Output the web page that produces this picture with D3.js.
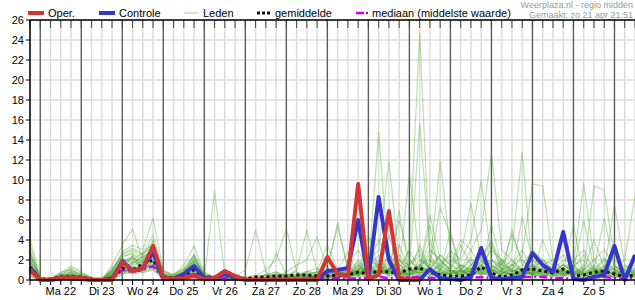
<!DOCTYPE html>
<html>
<head>
<meta charset="utf-8">
<script src="https://cdn.jsdelivr.net/npm/d3@7"></script>
<style>
  html, body { margin: 0; padding: 0; background: #fff; }
  svg { display: block; font-family: "Liberation Sans", Arial, sans-serif; }
</style>
</head>
<body>
<div id="chart"></div>
<script>
// 6-uurlijkse neerslag (mm), eerste punt zo 21 apr 18:00 UTC
const start = Date.UTC(2024, 3, 21, 18);
const stapUren = 6;

const dagLabels = ["Ma 22", "Di 23", "Wo 24", "Do 25", "Vr 26", "Za 27", "Zo 28",
  "Ma 29", "Di 30", "Wo 1", "Do 2", "Vr 3", "Za 4", "Zo 5"];
const yTicks = [0, 2, 4, 6, 8, 10, 12, 14, 16, 18, 20, 22, 24, 26];

const oper = [1.0, 0, 0, 0.2, 0.3, 0.2, 0, 0, 0, 1.8,
  0.9, 1.2, 3.4, 0.2, 0.1, 0.2, 0.4, 0.1, 0.2, 0.9,
  0.4, 0, 0, 0, 0, 0, 0, 0, 0, 2.3,
  0.6, 0.4, 9.6, 0.1, 0.5, 6.9, 0.2, 0.1, 0];

const controle = [1.2, 0, 0, 0.2, 0.2, 0.1, 0, 0, 0.1, 1.9,
  0.9, 1.2, 2.8, 0.1, 0.1, 0.6, 1.4, 0.2, 0.2, 0.6,
  0.3, 0, 0, 0, 0, 0, 0, 0, 0.1, 0.9,
  1.0, 1.2, 6.0, 0.1, 8.3, 2.0, 0, 0, 0, 1.1,
  0.2, 0.1, 0, 0.3, 3.2, 0.2, 0.1, 0.2, 0.3, 2.7,
  1.5, 0.8, 4.8, 0.1, 0, 0.3, 0.5, 3.4, 0, 2.5];

const gemiddelde = [1.3, 0.1, 0.1, 0.3, 0.4, 0.3, 0.1, 0, 0.2, 1.2,
  1.0, 1.6, 2.0, 0.3, 0.2, 0.5, 1.0, 0.3, 0.3, 0.6,
  0.3, 0.1, 0.3, 0.3, 0.4, 0.4, 0.5, 0.5, 0.4, 0.4,
  0.5, 0.5, 0.8, 0.6, 0.9, 0.8, 0.7, 1.1, 1.2, 0.8,
  0.5, 0.4, 0.4, 0.5, 1.3, 0.7, 0.3, 0.5, 1.0, 1.1,
  0.9, 0.7, 1.1, 0.4, 0.5, 0.8, 0.9, 0.6, 0.3, 0.5];

const mediaan = [1.1, 0, 0, 0.1, 0.2, 0.1, 0, 0, 0.1, 1.0,
  0.8, 1.0, 1.4, 0.1, 0.1, 0.3, 0.6, 0.1, 0, 0.2,
  0.1, 0, 0, 0, 0.1, 0.1, 0.1, 0.1, 0.1, 0.1,
  0.2, 0.1, 0.2, 0.2, 0.3, 0.2, 0.2, 0.3, 0.3, 0.2,
  0.2, 0.1, 0.2, 0.2, 0.3, 0.2, 0.1, 0.2, 0.3, 0.3,
  0.3, 0.2, 0.2, 0.1, 0.2, 0.3, 0.3, 0.2, 0.1, 0.2];

const leden = [
  [1.5, 0, 0, 0.3, 0.5, 0.2, 0, 0, 0.3, 1.2, 1.0, 1.5, 2.5, 0.3, 0.1, 0.4, 1.0, 0.2, 0, 0.2,
   0.1, 0, 0, 0.3, 0.5, 0.2, 0, 0.4, 0.3, 0.5, 1.0, 0.5, 1.2, 0.8, 2.0, 1.0, 0.5, 3.0, 24.7, 2.0,
   0.5, 0.3, 1.0, 2.0, 0.8, 0.3, 0.5, 1.5, 1.0, 0.6, 0.3, 0.8, 1.2, 0.4, 0.2, 0.5, 1.0, 0.6, 0.3, 0.2],
  [2.0, 0.1, 0, 0.5, 0.3, 0.1, 0, 0, 0.5, 1.8, 1.2, 2.0, 3.5, 0.5, 0.2, 0.8, 1.5, 0.3, 0.1, 0.5,
   0.2, 0, 0.1, 0.5, 0.8, 0.3, 0.2, 0.6, 0.8, 1.0, 0.5, 0.3, 2.0, 1.0, 14.8, 1.5, 0.5, 0.8, 1.0, 2.5,
   1.0, 0.5, 0.3, 0.8, 1.5, 2.0, 1.0, 0.5, 0.3, 1.2, 2.0, 1.5, 0.5, 0.3, 0.8, 1.2, 0.6, 0.3, 0.5, 1.0],
  [1.0, 0, 0, 0.2, 0.8, 0.4, 0.1, 0, 0.2, 0.8, 2.5, 1.0, 1.8, 0.2, 0, 0.5, 2.0, 0.5, 0, 0,
   0, 0, 0.2, 0.1, 0.3, 0.5, 0.8, 0.2, 0.5, 0.3, 0.8, 1.5, 0.5, 2.0, 3.0, 11.9, 2.0, 1.0, 15.6, 3.0,
   2.0, 1.0, 0.5, 1.5, 3.0, 1.0, 0.5, 0.3, 0.8, 2.0, 1.0, 0.5, 0.3, 1.5, 2.0, 0.8, 0.4, 0.2, 0.6, 0.3],
  [3.0, 0.2, 0.1, 0.8, 1.0, 0.5, 0, 0, 1.0, 2.5, 3.0, 2.5, 4.0, 0.8, 0.5, 1.2, 2.5, 0.4, 0.2, 0.8,
   0.3, 0.1, 0, 0, 0.2, 0.4, 0.3, 0.8, 1.2, 0.4, 0.3, 0.6, 1.5, 0.8, 1.0, 2.5, 1.0, 10.7, 2.0, 1.5,
   11.9, 3.0, 1.0, 0.5, 2.0, 1.5, 0.8, 1.0, 0.5, 0.3, 0.8, 1.0, 2.0, 1.5, 0.5, 0.3, 0.2, 0.8, 1.5, 0.5],
  [0.8, 0, 0, 0.1, 0.2, 0.1, 0, 0, 0, 0.6, 0.8, 1.2, 1.5, 0.1, 0, 0.2, 0.6, 0.1, 0, 0,
   0, 0, 0, 0.2, 0.1, 0, 0, 0.1, 0.2, 0.3, 0.5, 0.2, 0.8, 0.3, 0.6, 1.0, 2.0, 1.5, 3.0, 1.0,
   2.5, 1.5, 4.0, 3.0, 5.0, 12.7, 3.0, 2.0, 1.0, 0.5, 0.3, 1.0, 0.8, 2.0, 3.0, 1.0, 0.5, 0.3, 0.2, 0.8],
  [1.2, 0, 0.1, 0.4, 0.6, 0.3, 0.2, 0.1, 0.8, 1.5, 1.5, 1.8, 2.2, 0.6, 0.3, 0.5, 1.2, 0.3, 0.1, 0.3,
   0.5, 0.2, 0.1, 0, 0.1, 0.3, 0.5, 0.3, 0.1, 0.2, 0.4, 1.0, 0.5, 1.5, 0.8, 2.0, 1.2, 0.5, 1.5, 2.0,
   1.0, 3.0, 2.0, 4.0, 10.0, 2.0, 1.5, 3.0, 12.8, 1.0, 0.5, 0.8, 1.5, 0.8, 0.4, 0.6, 1.0, 0.5, 0.3, 0.2],
  [0.5, 0, 0, 0, 0.1, 0, 0, 0, 0.2, 0.9, 1.8, 1.4, 2.8, 0.3, 0.1, 0.3, 0.8, 0.2, 0, 0.1,
   0, 0, 0, 0, 0, 0.2, 0.4, 0.6, 0.2, 0, 0.2, 0.3, 0.6, 1.2, 2.5, 0.8, 3.5, 1.0, 0.8, 0.5,
   1.5, 2.5, 1.0, 0.5, 1.5, 3.0, 2.0, 1.0, 2.5, 9.6, 9.4, 2.0, 1.0, 0.5, 1.0, 2.0, 3.0, 1.5, 0.5, 1.0],
  [2.5, 0.3, 0.2, 0.6, 0.4, 0.2, 0, 0, 0.6, 2.0, 2.2, 1.0, 1.5, 0.4, 0.2, 0.6, 1.8, 0.6, 0.3, 0.6,
   0.2, 0, 0.1, 0.1, 0.2, 0.1, 0.2, 0.3, 0.5, 0.8, 1.2, 0.5, 0.8, 0.4, 1.0, 0.6, 0.5, 2.0, 1.0, 3.0,
   2.0, 1.0, 0.8, 1.2, 0.6, 0.8, 2.0, 1.5, 3.0, 1.0, 2.0, 1.0, 0.5, 1.5, 9.7, 2.0, 0.8, 0.5, 1.2, 2.0],
  [1.8, 0.1, 0, 0.2, 0.3, 0.4, 0.1, 0.1, 0.4, 1.2, 1.0, 0.8, 1.2, 0.3, 0.4, 0.8, 1.5, 0.5, 0.2, 0.1,
   0.1, 0.1, 0.3, 0.2, 0.4, 0.6, 0.2, 0.1, 0.3, 0.6, 0.8, 0.4, 1.0, 0.6, 1.5, 1.0, 0.8, 0.4, 2.0, 1.2,
   0.5, 0.8, 1.5, 1.0, 2.5, 1.0, 0.6, 1.2, 0.8, 1.5, 1.0, 0.6, 1.2, 2.0, 1.0, 9.4, 9.0, 2.0, 1.0, 0.5],
  [0.6, 0, 0, 0.1, 0.3, 0.2, 0, 0, 0.1, 0.7, 1.3, 0.9, 2.0, 0.2, 0.1, 0.4, 1.0, 0.2, 8.9, 0.5,
   0.1, 0, 0, 0, 0.1, 0.2, 0.1, 0.3, 0.1, 0.2, 0.3, 0.8, 0.4, 1.0, 0.6, 1.2, 0.4, 0.8, 0.5, 0.3,
   0.8, 0.5, 0.3, 0.6, 1.0, 1.5, 0.8, 0.5, 1.0, 0.6, 0.4, 0.8, 1.5, 1.0, 0.5, 0.8, 1.2, 1.0, 2.0, 8.5],
  [4.1, 0.2, 0, 0.3, 0.6, 0.3, 0.1, 0, 1.5, 3.5, 5.1, 2.0, 3.0, 0.5, 0.2, 0.3, 1.0, 0.1, 0, 0.2,
   0.3, 1.0, 5.0, 0.8, 0.2, 0.1, 0.3, 0.5, 0.8, 0.3, 0.6, 0.2, 1.5, 0.5, 1.0, 0.8, 2.5, 1.2, 0.6, 1.5,
   7.2, 4.5, 1.0, 0.8, 1.5, 0.6, 1.0, 2.0, 0.8, 0.5, 1.2, 0.8, 0.4, 0.6, 1.5, 1.0, 0.5, 0.8, 0.4, 0.3],
  [2.2, 0.1, 0, 0.4, 0.9, 0.6, 0.2, 0.1, 0.9, 2.8, 3.5, 3.0, 6.2, 1.0, 0.4, 0.9, 2.2, 0.6, 0.2, 0.4,
   0.2, 0.1, 0.4, 1.0, 2.0, 5.2, 0.8, 0.4, 0.3, 0.5, 1.0, 0.5, 0.8, 2.5, 1.0, 1.5, 0.8, 0.6, 3.5, 1.0,
   0.6, 1.2, 2.5, 7.7, 2.0, 1.0, 0.8, 0.6, 6.3, 2.0, 1.5, 0.8, 0.5, 1.0, 0.7, 0.5, 0.8, 1.5, 0.6, 0.4],
  [1.4, 0, 0, 0.2, 0.2, 0.1, 0, 0, 0.5, 1.6, 1.1, 1.6, 2.6, 0.4, 0.3, 0.7, 1.4, 0.3, 0.1, 0,
   0, 0.2, 0.1, 0.3, 0.6, 0.4, 1.0, 5.0, 0.8, 1.5, 5.3, 1.2, 0.6, 1.5, 4.0, 2.0, 1.0, 1.5, 2.5, 1.0,
   0.8, 0.5, 1.5, 1.0, 0.6, 2.0, 1.2, 0.8, 1.5, 3.0, 2.0, 1.0, 0.8, 0.5, 0.3, 0.6, 1.0, 7.5, 1.5, 0.6],
  [0.9, 0, 0.1, 0.5, 1.2, 0.7, 0.3, 0.2, 0.4, 1.0, 0.7, 1.3, 1.9, 0.2, 0.1, 0.6, 2.6, 0.8, 0.3, 0.5,
   0.4, 0.3, 0.2, 0.6, 0.3, 0.8, 1.5, 2.0, 4.3, 1.0, 0.8, 1.5, 3.0, 1.2, 0.8, 4.5, 1.0, 0.5, 0.8, 2.0,
   1.5, 0.8, 1.0, 2.2, 1.0, 0.5, 1.0, 1.5, 2.0, 1.0, 0.8, 1.5, 2.5, 1.2, 0.8, 0.4, 1.5, 1.0, 0.6, 1.2],
  [1.6, 0.1, 0, 0.1, 0.4, 0.5, 0.1, 0, 0.3, 1.1, 0.9, 1.1, 1.6, 0.2, 0.1, 0.3, 0.9, 0.4, 0.1, 0.2,
   0.1, 0, 0, 0.1, 2.7, 0.5, 0.2, 0.4, 0.2, 0.8, 5.8, 1.0, 0.5, 0.8, 1.5, 0.6, 1.2, 3.0, 1.0, 0.5,
   1.0, 2.0, 1.5, 0.8, 3.0, 1.5, 0.8, 0.5, 1.0, 1.5, 0.6, 0.4, 0.8, 1.2, 2.5, 1.0, 0.6, 0.4, 0.8, 0.5],
  [2.8, 0.2, 0.1, 0.6, 0.8, 0.3, 0, 0, 1.2, 2.2, 2.8, 2.2, 3.2, 0.7, 0.5, 1.5, 3.4, 0.7, 0.2, 0.6,
   0.3, 0.1, 0.2, 0.1, 0.5, 0.3, 0.6, 0.2, 0.4, 0.6, 0.4, 0.8, 1.8, 0.5, 1.2, 0.8, 0.5, 1.0, 1.5, 0.8,
   0.5, 1.0, 3.5, 1.5, 0.8, 1.2, 2.0, 0.8, 0.5, 1.0, 1.5, 2.0, 1.0, 0.6, 0.5, 1.5, 0.8, 0.6, 1.0, 1.8],
  [0.7, 0, 0, 0.3, 0.5, 0.2, 0.1, 0.3, 0.6, 1.4, 1.6, 2.4, 3.8, 0.3, 0.2, 0.4, 0.7, 0.2, 0, 0.1,
   0, 0, 0, 0.2, 0.4, 0.2, 0.1, 0.3, 0.6, 0.4, 0.6, 0.3, 0.8, 1.2, 0.5, 2.5, 1.5, 0.8, 1.2, 0.6,
   1.8, 1.0, 0.6, 1.5, 2.2, 4.0, 1.5, 1.0, 0.6, 0.8, 1.2, 0.6, 0.4, 0.8, 1.2, 0.8, 2.0, 1.0, 0.5, 0.4],
  [1.1, 0, 0, 0, 0.1, 0.1, 0, 0, 0.1, 0.5, 1.4, 0.7, 1.0, 0.1, 0, 0.2, 0.5, 0.1, 0, 0,
   0, 0, 0.1, 0, 0, 0.1, 0, 0.1, 0.1, 0.2, 0.3, 0.1, 0.5, 0.3, 0.8, 0.5, 0.3, 0.5, 0.8, 0.6,
   0.4, 0.6, 0.8, 0.5, 1.0, 0.8, 0.5, 0.6, 0.4, 0.8, 0.5, 0.4, 0.6, 0.8, 0.5, 0.3, 0.6, 0.4, 0.5, 0.6],
  [2.4, 0.1, 0.1, 0.7, 1.4, 0.8, 0.2, 0.1, 0.7, 1.9, 2.0, 2.7, 4.5, 0.9, 0.6, 1.0, 1.8, 0.3, 0.1, 0.3,
   0.6, 0.2, 0.3, 0.5, 0.8, 0.4, 0.5, 0.9, 0.6, 1.2, 0.8, 0.6, 1.0, 2.0, 1.5, 0.8, 2.0, 1.0, 0.6, 1.2,
   2.5, 1.5, 0.8, 0.6, 1.0, 5.5, 1.5, 0.8, 1.2, 0.6, 0.8, 1.2, 0.6, 1.0, 6.0, 1.2, 0.8, 2.5, 1.0, 0.8],
  [0.4, 0, 0, 0.2, 0.3, 0.2, 0.1, 0, 0.3, 0.8, 0.6, 0.8, 1.1, 0.2, 0.1, 0.5, 1.3, 0.2, 0.1, 0.4,
   0.2, 0.1, 0, 0, 0.2, 0.4, 0.3, 0.2, 0.1, 0.4, 0.6, 0.4, 1.2, 0.6, 0.4, 1.0, 0.6, 0.4, 1.0, 0.8,
   0.6, 1.5, 1.0, 0.8, 0.5, 0.8, 1.2, 0.6, 0.8, 1.2, 0.8, 0.6, 1.0, 1.5, 0.6, 0.5, 0.8, 1.2, 0.5, 0.6],
  [1.3, 0.1, 0.2, 0.4, 0.7, 0.6, 0.2, 0.1, 0.4, 1.0, 1.9, 1.7, 2.3, 0.5, 0.3, 0.7, 1.6, 0.4, 0.1, 0.2,
   0.4, 0.3, 0.5, 0.2, 0.3, 0.6, 0.4, 0.5, 0.8, 3.5, 1.0, 2.8, 0.6, 0.8, 0.5, 1.0, 6.0, 2.0, 1.0, 4.0,
   1.2, 0.6, 1.0, 3.0, 1.2, 0.6, 1.5, 4.5, 2.0, 0.8, 0.6, 1.0, 0.8, 0.5, 1.0, 4.0, 1.2, 0.8, 0.5, 1.5],
  [3.5, 0.3, 0.1, 0.2, 0.3, 0.1, 0, 0, 0.8, 2.4, 2.6, 1.9, 2.9, 0.6, 0.3, 0.8, 2.0, 0.5, 0.2, 0.1,
   0.1, 0, 0.1, 0.4, 0.2, 0.1, 0.2, 0.6, 0.4, 0.2, 0.5, 1.0, 0.6, 3.5, 1.0, 0.6, 0.8, 0.5, 1.2, 6.5,
   2.0, 1.0, 0.6, 1.0, 0.8, 3.5, 1.0, 1.5, 0.8, 0.6, 4.0, 1.5, 0.8, 1.2, 0.6, 1.0, 2.2, 1.0, 0.6, 0.8],
  [0.9, 0, 0, 0.2, 0.4, 0.3, 0.1, 0, 0.6, 1.5, 2.2, 1.8, 2.6, 0.4, 0.2, 0.6, 1.1, 0.3, 0.1, 0.2,
   0.1, 0, 0.2, 0.3, 0.6, 0.3, 0.1, 0.2, 0.5, 0.8, 0.4, 0.6, 1.5, 0.8, 0.5, 1.8, 0.9, 0.6, 0.8, 1.5,
   1.0, 0.6, 0.8, 1.2, 0.6, 1.0, 0.5, 5.0, 1.5, 1.0, 0.6, 1.2, 4.5, 0.5, 0.9, 0.6, 1.0, 0.5, 0.8, 1.2],
  [1.9, 0.1, 0, 0.3, 0.6, 0.2, 0, 0.1, 0.9, 2.1, 1.7, 2.3, 3.0, 0.5, 0.3, 0.9, 2.1, 0.5, 0.1, 0.3,
   0.2, 0.1, 0, 0.1, 0.3, 0.2, 0.4, 0.5, 0.2, 0.6, 0.9, 0.3, 0.6, 1.0, 1.6, 0.7, 0.5, 1.2, 0.7, 0.9,
   1.4, 0.8, 0.5, 0.9, 1.8, 3.8, 1.0, 0.6, 0.9, 1.6, 0.8, 0.5, 1.0, 5.5, 0.4, 0.9, 1.4, 0.7, 0.4, 0.6],
  [0.3, 0, 0, 0.1, 0.1, 0, 0, 0, 0.4, 1.3, 1.2, 1.0, 1.4, 0.2, 0.1, 0.2, 0.8, 0.1, 0, 0,
   0.1, 0, 0, 0, 0.1, 0, 0.1, 0.2, 0.3, 0.1, 0.2, 0.6, 0.3, 0.5, 0.9, 0.4, 0.7, 0.3, 0.5, 0.4,
   0.7, 0.3, 0.6, 0.4, 0.8, 0.5, 0.3, 0.7, 0.5, 0.9, 0.6, 0.3, 0.7, 0.4, 0.6, 0.8, 0.5, 0.3, 0.6, 0.4],
  [2.6, 0.2, 0.1, 0.5, 1.1, 0.4, 0.1, 0, 1.1, 2.6, 3.2, 2.6, 3.6, 0.7, 0.4, 1.1, 2.4, 0.4, 0.1, 0.4,
   0.3, 0.2, 0.1, 0.3, 0.2, 0.6, 0.3, 0.8, 0.5, 0.3, 0.7, 0.9, 0.4, 1.4, 0.7, 1.2, 1.6, 0.8, 1.4, 0.7,
   0.9, 4.8, 1.2, 0.7, 1.4, 0.9, 1.7, 1.0, 0.7, 0.5, 1.1, 0.7, 1.6, 0.9, 0.6, 1.1, 6.2, 1.3, 0.9, 0.7],
  [1.7, 0.1, 0, 0.2, 0.5, 0.3, 0.1, 0.1, 0.5, 1.7, 2.4, 1.5, 2.1, 0.4, 0.2, 0.5, 1.7, 0.4, 0.2, 0.2,
   0.2, 0, 0.1, 0.2, 0.4, 0.1, 0.3, 0.2, 0.6, 0.5, 0.3, 0.4, 0.9, 4.5, 1.2, 0.5, 7.0, 0.7, 0.4, 1.0,
   0.6, 0.9, 0.4, 1.1, 0.7, 1.2, 0.6, 0.9, 1.2, 0.7, 1.0, 0.5, 0.9, 0.6, 1.1, 0.7, 0.5, 0.9, 0.7, 1.0],
  [1.0, 0, 0, 0.1, 0.3, 0.2, 0, 0, 0.2, 1.0, 0.8, 1.0, 1.8, 0.3, 0.1, 0.4, 1.2, 0.2, 0, 0.1,
   0, 0, 0.1, 0.1, 0.2, 0.3, 0.2, 0.1, 0.2, 0.3, 0.5, 0.2, 0.7, 0.4, 0.6, 0.9, 0.4, 0.6, 1.1, 5.5,
   0.3, 0.7, 0.9, 0.5, 0.6, 0.4, 0.8, 0.5, 0.6, 0.7, 0.4, 0.9, 0.5, 0.8, 0.4, 0.6, 0.9, 0.6, 0.4, 0.5]
];

const width = 635;
const height = 300;
const margin = { top: 20, right: 0, bottom: 20, left: 30 };

const tijd = i => new Date(start + i * stapUren * 3600e3);
const eind = tijd(59);

const svg = d3.select("#chart")
  .append("svg")
  .attr("width", width)
  .attr("height", height);

const x = d3.scaleUtc()
  .domain([tijd(0), eind])
  .range([margin.left, width - margin.right]);

const y = d3.scaleLinear()
  .domain([0, 26])
  .range([height - margin.bottom, margin.top]);

const zesUur = d3.utcHour.every(6).range(tijd(0), new Date(+eind + 1));
const dagen = d3.utcDay.range(tijd(0), eind);

// raster
svg.append("g")
  .selectAll("line")
  .data(zesUur)
  .join("line")
  .attr("x1", d => x(d)).attr("x2", d => x(d))
  .attr("y1", y(26)).attr("y2", y(0))
  .attr("stroke", "#dcdcdc")
  .attr("stroke-width", 1.5);

svg.append("g")
  .selectAll("line")
  .data(yTicks)
  .join("line")
  .attr("x1", margin.left).attr("x2", width)
  .attr("y1", d => y(d)).attr("y2", d => y(d))
  .attr("stroke", "#dcdcdc")
  .attr("stroke-width", 1.5);

svg.append("g")
  .selectAll("line")
  .data(dagen)
  .join("line")
  .attr("x1", d => x(d)).attr("x2", d => x(d))
  .attr("y1", y(26)).attr("y2", y(0))
  .attr("stroke", "#5a5a5a")
  .attr("stroke-width", 1.3);

// ticks boven en onder
svg.append("g")
  .selectAll("line")
  .data(zesUur)
  .join("line")
  .attr("x1", d => x(d)).attr("x2", d => x(d))
  .attr("y1", y(26)).attr("y2", y(26) + 8)
  .attr("stroke", "#444");

svg.append("g")
  .selectAll("line")
  .data(zesUur)
  .join("line")
  .attr("x1", d => x(d)).attr("x2", d => x(d))
  .attr("y1", y(0)).attr("y2", y(0) + 5)
  .attr("stroke", "#000");

const line = d3.line()
  .x((d, i) => x(tijd(i)))
  .y(d => y(d));

const plot = svg.append("g");

plot.selectAll(".lid")
  .data(leden)
  .join("path")
  .attr("class", "lid")
  .attr("d", line)
  .attr("fill", "none")
  .attr("stroke", "#46a026")
  .attr("stroke-opacity", 0.35)
  .attr("stroke-width", 1.2);

plot.append("path")
  .attr("d", line(mediaan))
  .attr("fill", "none")
  .attr("stroke", "#cc00ee")
  .attr("stroke-width", 2.5)
  .attr("stroke-dasharray", "8,3,2,3");

plot.append("path")
  .attr("d", line(gemiddelde))
  .attr("fill", "none")
  .attr("stroke", "#111")
  .attr("stroke-width", 3)
  .attr("stroke-dasharray", "3,3");

plot.append("path")
  .attr("d", line(controle))
  .attr("fill", "none")
  .attr("stroke", "#3535cc")
  .attr("stroke-width", 4)
  .attr("stroke-linejoin", "round");

plot.append("path")
  .attr("d", line(oper))
  .attr("fill", "none")
  .attr("stroke", "#d23535")
  .attr("stroke-width", 4)
  .attr("stroke-linejoin", "round");

// assen
svg.append("line")
  .attr("x1", margin.left).attr("x2", width)
  .attr("y1", y(26)).attr("y2", y(26))
  .attr("stroke", "#000").attr("stroke-width", 1.5);
svg.append("line")
  .attr("x1", margin.left).attr("x2", width)
  .attr("y1", y(0)).attr("y2", y(0))
  .attr("stroke", "#000").attr("stroke-width", 1.5);
svg.append("line")
  .attr("x1", margin.left).attr("x2", margin.left)
  .attr("y1", y(26)).attr("y2", y(0))
  .attr("stroke", "#000").attr("stroke-width", 1.5);

const yAs = svg.append("g");
yAs.selectAll("line")
  .data(yTicks)
  .join("line")
  .attr("x1", margin.left - 4).attr("x2", margin.left)
  .attr("y1", d => y(d)).attr("y2", d => y(d))
  .attr("stroke", "#000");
yAs.selectAll("text")
  .data(yTicks)
  .join("text")
  .attr("x", margin.left - 6)
  .attr("y", d => y(d) + 4)
  .attr("text-anchor", "end")
  .attr("font-size", "11px")
  .attr("fill", "#000")
  .text(d => d);

svg.append("g")
  .selectAll("text")
  .data(dagLabels)
  .join("text")
  .attr("x", (d, i) => x(new Date(+dagen[i] + 12 * 3600e3)))
  .attr("y", 295)
  .attr("text-anchor", "middle")
  .attr("font-size", "11px")
  .attr("fill", "#000")
  .text(d => d);

// legenda
const legenda = [
  { label: "Oper.", x: 28, color: "#d23535", w: 4, dash: null, len: 16 },
  { label: "Controle", x: 99, color: "#3535cc", w: 4, dash: null, len: 16 },
  { label: "Leden", x: 184, color: "#b8dca8", w: 1.2, dash: null, len: 15 },
  { label: "gemiddelde", x: 257, color: "#111", w: 3, dash: "3,2", len: 14 },
  { label: "mediaan (middelste waarde)", x: 356, color: "#cc00ee", w: 2.5, dash: "8,2,2,4", len: 12 }
];

const leg = svg.append("g")
  .selectAll("g")
  .data(legenda)
  .join("g")
  .attr("transform", d => `translate(${d.x},13)`);

leg.append("line")
  .attr("x1", 0).attr("x2", d => d.len)
  .attr("y1", 0).attr("y2", 0)
  .attr("stroke", d => d.color)
  .attr("stroke-width", d => d.w)
  .attr("stroke-dasharray", d => d.dash);

leg.append("text")
  .attr("x", d => d.len + 4)
  .attr("y", 4)
  .attr("font-size", "11px")
  .attr("fill", "#000")
  .text(d => d.label);

svg.append("text")
  .attr("x", 633).attr("y", 8)
  .attr("text-anchor", "end")
  .attr("font-size", "9px")
  .attr("fill", "#999")
  .text("Weerplaza.nl - regio midden");

svg.append("text")
  .attr("x", 633).attr("y", 18)
  .attr("text-anchor", "end")
  .attr("font-size", "9px")
  .attr("fill", "#999")
  .text("Gemaakt: zo 21 apr 21:51");
</script>
</body>
</html>
